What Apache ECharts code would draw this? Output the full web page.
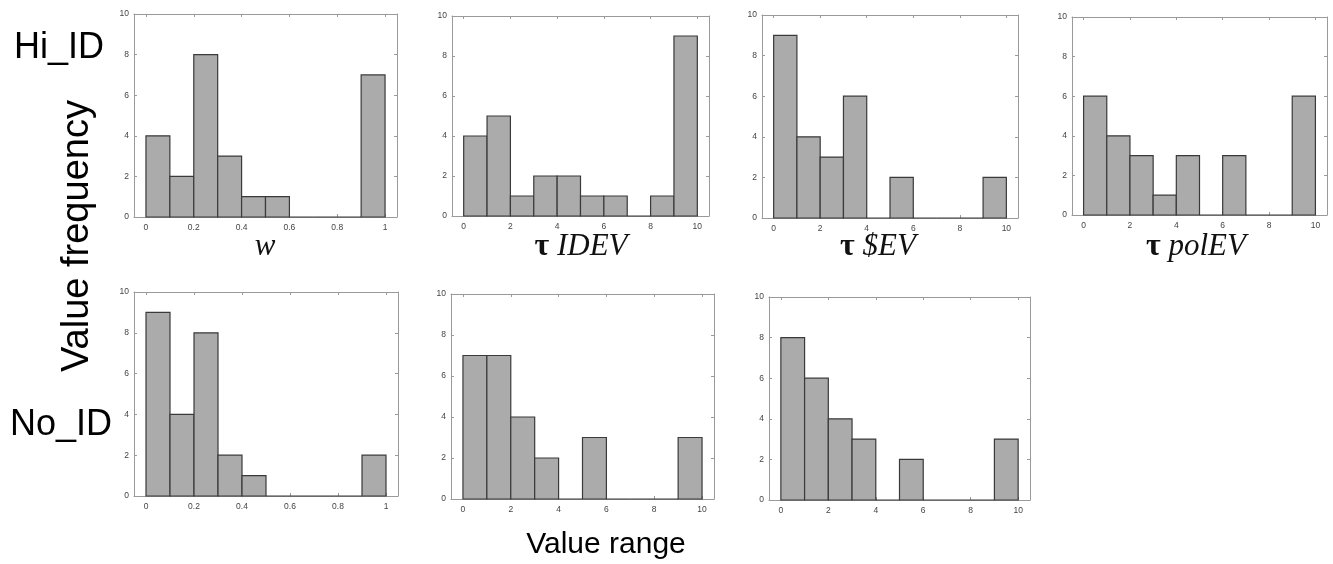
<!DOCTYPE html>
<html><head><meta charset="utf-8">
<script src="https://cdn.jsdelivr.net/npm/echarts@6/dist/echarts.min.js"></script>
<style>html,body{margin:0;padding:0;background:#fff}#c{width:1333px;height:564px}</style>
</head><body><div id="c"></div>
<script>
// Bin edges
const binStartW = [0,0.1,0.2,0.3,0.4,0.5,0.6,0.7,0.8,0.9];
const binEndW   = [0.1,0.2,0.3,0.4,0.5,0.6,0.7,0.8,0.9,1.0];
const binStartT = [0,1,2,3,4,5,6,7,8,9];
const binEndT   = [1,2,3,4,5,6,7,8,9,10];
// Tick labels
const ticksW = [0,0.2,0.4,0.6,0.8,1];
const ticksT = [0,2,4,6,8,10];
const ticksY = [0,2,4,6,8,10];
// Counts
const hiW     = [4,2,8,3,1,1,0,0,0,7];
const hiIDEV  = [4,5,1,2,2,1,1,0,1,9];
const hiSEV   = [9,4,3,6,0,2,0,0,0,2];
const hiPolEV = [6,4,3,1,3,0,3,0,0,6];
const noW     = [9,4,8,2,1,0,0,0,0,2];
const noIDEV  = [7,7,4,2,0,3,0,0,0,3];
const noSEV   = [8,6,4,3,0,2,0,0,0,3];
// Texts
const rowLabels = ['Hi_ID','No_ID'];
const yTitle = 'Value frequency';
const xTitle = 'Value range';

const panels = [
  {counts: hiW,     kind:'w', box:[134,14,263,203]},
  {counts: hiIDEV,  kind:'t', box:[452,16,257,200]},
  {counts: hiSEV,   kind:'t', box:[762,15,256,203]},
  {counts: hiPolEV, kind:'t', box:[1072,17,255,198]},
  {counts: noW,     kind:'w', box:[134,292,264,204]},
  {counts: noIDEV,  kind:'t', box:[451,294,263,205]},
  {counts: noSEV,   kind:'t', box:[769,297,261,203]}
];

const axisColor = '#9a9a9a';
const grid=[], xAxis=[], yAxis=[], series=[];
panels.forEach((p,i)=>{
  grid.push({left:p.box[0], top:p.box[1], width:p.box[2], height:p.box[3]});
  const isW = p.kind==='w';
  const xmin = isW ? -0.05 : -0.5, xmax = isW ? 1.05 : 10.5;
  const ticks = isW ? ticksW : ticksT;
  const base = {type:'value', gridIndex:i, min:xmin, max:xmax,
    splitLine:{show:false},
    axisLine:{show:true, onZero:false, lineStyle:{color:axisColor, width:1}},
    axisTick:{show:true, inside:true, length:3, customValues:ticks, lineStyle:{color:axisColor}}};
  xAxis.push(Object.assign({}, base, {position:'bottom',
    axisLabel:{show:true, customValues:ticks, fontSize:8.5, color:'#444', margin:6, fontFamily:'Liberation Sans'}}));
  xAxis.push(Object.assign({}, base, {position:'top', axisLabel:{show:false}}));
  const ybase = {type:'value', gridIndex:i, min:0, max:10, interval:2,
    splitLine:{show:false},
    axisLine:{show:true, onZero:false, lineStyle:{color:axisColor, width:1}},
    axisTick:{show:true, inside:true, length:3, lineStyle:{color:axisColor}}};
  yAxis.push(Object.assign({}, ybase, {position:'left',
    axisLabel:{show:true, fontSize:8.5, color:'#444', margin:5, fontFamily:'Liberation Sans'}}));
  yAxis.push(Object.assign({}, ybase, {position:'right', axisLabel:{show:false}}));
  const st = isW ? binStartW : binStartT, en = isW ? binEndW : binEndT;
  series.push({
    type:'custom', xAxisIndex:2*i, yAxisIndex:2*i,
    data: p.counts.map((c,k)=>[st[k], en[k], c]),
    encode:{x:[0,1], y:2},
    renderItem:function(params, api){
      const p0 = api.coord([api.value(0), 0]);
      const p1 = api.coord([api.value(1), api.value(2)]);
      return {type:'rect', shape:{x:p0[0], y:p1[1], width:p1[0]-p0[0], height:p0[1]-p1[1]},
        style:{fill:'#ababab', stroke:'#3a3a3a', lineWidth:1.2}};
    }
  });
});

const serif = 'Liberation Serif';
const richT = {
  t:{fontFamily:serif, fontWeight:'bold', fontSize:32, fill:'#111'},
  i:{fontFamily:serif, fontStyle:'italic', fontSize:31, fill:'#111'}
};
const graphic = [
  {type:'text', x:265, y:247, style:{text:'{i|w}', rich:richT, align:'center', verticalAlign:'middle'}},
  {type:'text', x:581, y:247, style:{text:'{t|τ}{i| IDEV}', rich:richT, align:'center', verticalAlign:'middle'}},
  {type:'text', x:878, y:247, style:{text:'{t|τ}{i| $EV}', rich:richT, align:'center', verticalAlign:'middle'}},
  {type:'text', x:1196, y:247, style:{text:'{t|τ}{i| polEV}', rich:richT, align:'center', verticalAlign:'middle'}},
  {type:'text', x:59, y:48, style:{text:rowLabels[0], font:'36px "Liberation Sans"', fill:'#000', align:'center', verticalAlign:'middle'}},
  {type:'text', x:61, y:425, style:{text:rowLabels[1], font:'36px "Liberation Sans"', fill:'#000', align:'center', verticalAlign:'middle'}},
  {type:'text', x:78, y:236, rotation:Math.PI/2, style:{text:yTitle, font:'38px "Liberation Sans"', fill:'#000', align:'center', verticalAlign:'middle'}},
  {type:'text', x:606, y:545, style:{text:xTitle, font:'30px "Liberation Sans"', fill:'#000', align:'center', verticalAlign:'middle'}}
];

const chart = echarts.init(document.getElementById('c'), null, {renderer:'canvas'});
chart.setOption({animation:false, backgroundColor:'#fff', grid, xAxis, yAxis, series, graphic});
</script>
</body></html>
